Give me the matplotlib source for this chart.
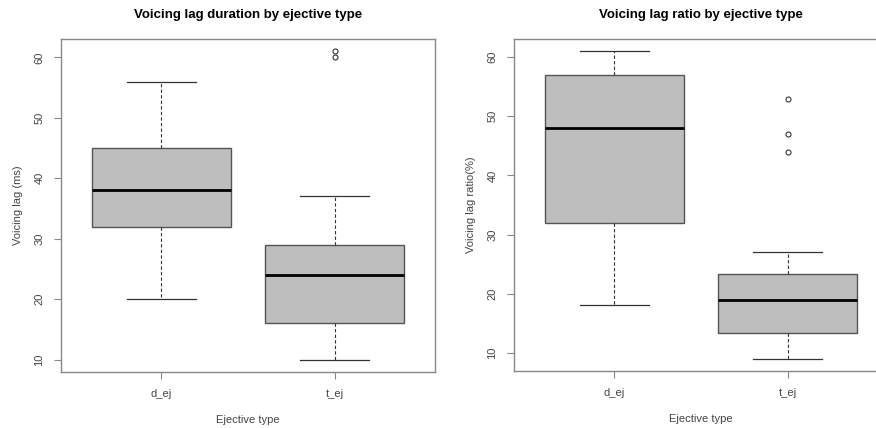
import matplotlib
matplotlib.use("Agg")
import matplotlib.pyplot as plt

plt.rcParams['font.family'] = ['Liberation Sans', 'DejaVu Sans']

groups = ["d_ej", "t_ej"]

# duration (ms): whisker low, q1, median, q3, whisker high
dur_lo = [20, 10]
dur_q1 = [32, 16]
dur_med = [38, 24]
dur_q3 = [45, 29]
dur_hi = [56, 37]
dur_out = [[], [60, 61]]

# ratio (%)
rat_lo = [18, 9]
rat_q1 = [32, 13.4]
rat_med = [48, 19]
rat_q3 = [57, 23.4]
rat_hi = [61, 27]
rat_out = [[], [44, 47, 53]]


def stats(lo, q1, med, q3, hi, out):
    return [dict(whislo=lo[i], q1=q1[i], med=med[i], q3=q3[i], whishi=hi[i],
                 fliers=out[i], label=groups[i]) for i in range(len(groups))]


def r_box(ax, st, başlık, ylabel):
    ax.bxp(st, positions=[1, 2], widths=0.8, patch_artist=True, showcaps=True,
           boxprops=dict(facecolor="#bebebe", edgecolor="#555555", linewidth=1.0),
           medianprops=dict(color="black", linewidth=2.0),
           whiskerprops=dict(color="#333333", linewidth=0.8, linestyle=(0, (3, 2))),
           capprops=dict(color="#333333", linewidth=0.9),
           capwidths=0.4,
           flierprops=dict(marker="o", markerfacecolor="none", markeredgecolor="#333333",
                           markersize=3.6, markeredgewidth=0.8))
    vals = [v for s in st for v in [s["whislo"], s["whishi"]] + list(s["fliers"])]
    lo, hi = min(vals), max(vals)
    pad = (hi - lo) * 0.04
    ax.set_ylim(lo - pad, hi + pad)
    ax.set_xlim(0.42, 2.58)
    ax.set_yticks([10, 20, 30, 40, 50, 60])
    for lab in ax.get_yticklabels():
        lab.set_rotation(90)
        lab.set_va("center")
    for sp in ax.spines.values():
        sp.set_color("#888888")
        sp.set_linewidth(1.0)
    ax.tick_params(colors="#888888", labelcolor="#444444", labelsize=8, length=5, pad=7)
    ax.set_title(başlık, fontsize=9.5, fontweight="bold", pad=15)
    ax.set_xlabel("Ejective type", fontsize=8, color="#444444", labelpad=12)
    ax.set_ylabel(ylabel, fontsize=8, color="#444444", labelpad=8)


fig = plt.figure(figsize=(8.76, 4.28), dpi=100)
ax1 = fig.add_axes([61 / 876, 56 / 428, 374 / 876, 333 / 428])
ax2 = fig.add_axes([514 / 876, 57 / 428, 374 / 876, 332 / 428])

r_box(ax1, stats(dur_lo, dur_q1, dur_med, dur_q3, dur_hi, dur_out),
      "Voicing lag duration by ejective type", "Voicing lag (ms)")
r_box(ax2, stats(rat_lo, rat_q1, rat_med, rat_q3, rat_hi, rat_out),
      "Voicing lag ratio by ejective type", "Voicing lag ratio(%)")

fig.savefig("out.png", dpi=100)
